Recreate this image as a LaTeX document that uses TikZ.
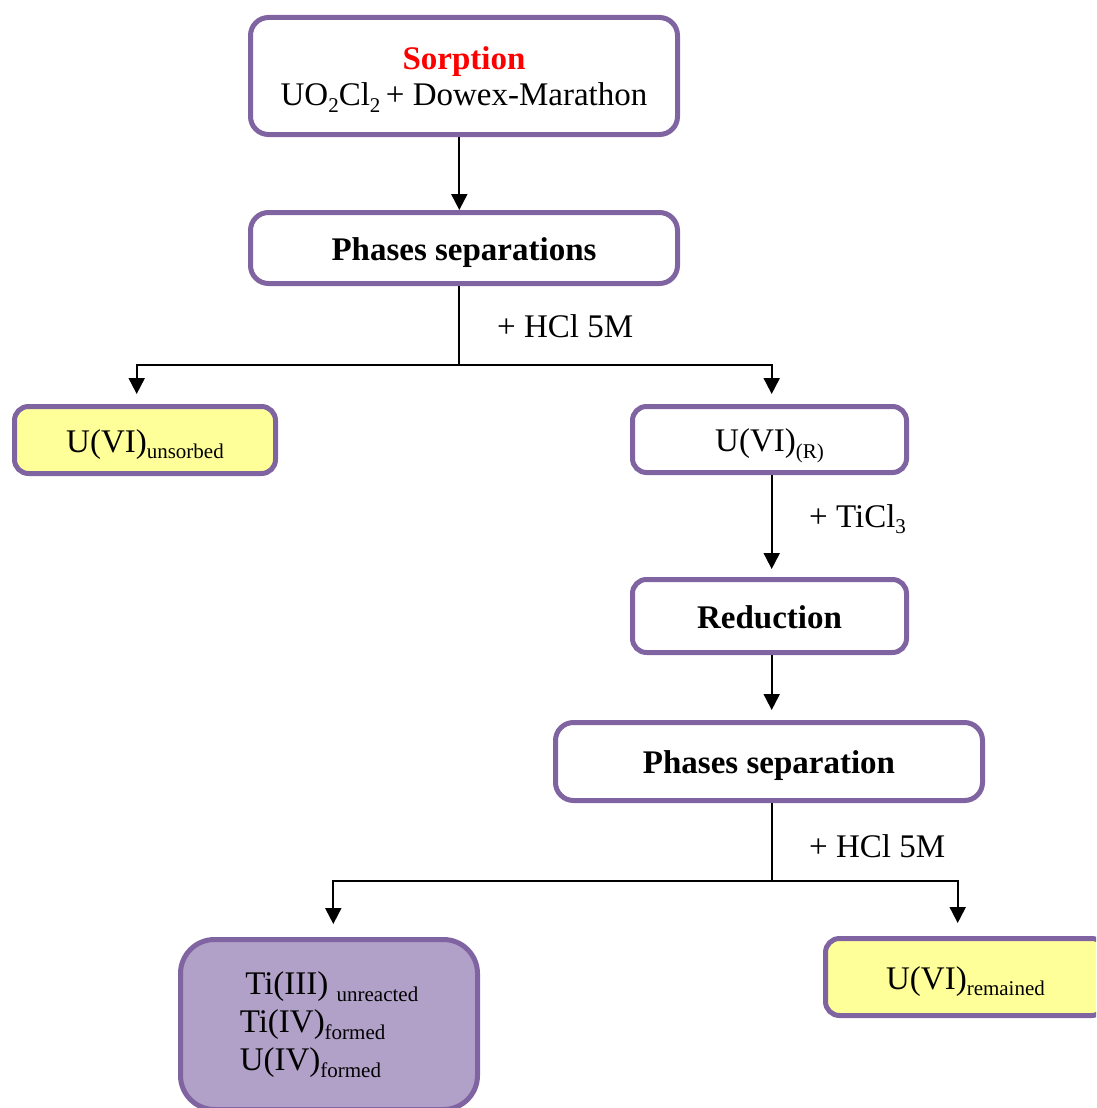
\documentclass[tikz,border=0pt]{standalone}
\usepackage{fontspec}
\setmainfont{Liberation Serif}
\usetikzlibrary{arrows.meta}
\definecolor{boxpurple}{RGB}{128,100,162}
\definecolor{boxyellow}{RGB}{255,255,153}
\definecolor{fillpurple}{RGB}{177,160,199}
\newcommand\subtx[1]{\raisebox{-0.2em}{\fontsize{21}{21}\selectfont #1}}
\begin{document}
\begin{tikzpicture}[x=1pt,y=-1pt,
  every node/.style={font=\fontsize{33}{36}\selectfont, inner sep=0pt},
  procbox/.style={draw=boxpurple, line width=5pt, rounded corners=18pt, fill=white},
  oneline/.style={text height=31pt, text depth=7pt},
  yellowbox/.style={procbox, fill=boxyellow, rounded corners=14pt},
  purplebox/.style={procbox, fill=fillpurple, rounded corners=34pt},
  ln/.style={line width=2pt},
  arr/.style={line width=2pt, -{Triangle[length=16pt,width=16pt]}},
  lbl/.style={anchor=west}]
\useasboundingbox (0,0) rectangle (1096,1108);
\clip (0,0) rectangle (1096,1108);

% boxes
\node[procbox, minimum width=427pt, minimum height=117pt, align=center, text depth=0pt] (b1) at (464,76)
  {{\bfseries\color{red}Sorption}\\UO\subtx{2}Cl\subtx{2}\,+ Dowex-Marathon};
\node[procbox, oneline, minimum width=427pt, minimum height=71pt, font=\fontsize{33}{36}\selectfont\bfseries] (b2) at (464,248) {Phases separations};
\node[yellowbox, oneline, minimum width=261pt, minimum height=67pt] (u1) at (145,440) {U(VI)\subtx{unsorbed}};
\node[procbox, oneline, minimum width=274pt, minimum height=66pt, rounded corners=14pt] (r1) at (769.5,439.5) {U(VI)\subtx{(R)}};
\node[procbox, oneline, minimum width=274pt, minimum height=73pt, rounded corners=14pt, font=\fontsize{33}{36}\selectfont\bfseries] (red) at (769.5,616) {Reduction};
\node[procbox, oneline, minimum width=427pt, minimum height=78pt, font=\fontsize{33}{36}\selectfont\bfseries] (ps) at (769,761.5) {Phases separation};
\node[purplebox, minimum width=297pt, minimum height=170pt, align=left, font=\fontsize{33}{38}\selectfont] (tb) at (329,1024.5)
  {\,Ti(III) \subtx{unreacted}\\Ti(IV)\subtx{formed}\\U(IV)\subtx{formed}};
\node[yellowbox, oneline, minimum width=280pt, minimum height=77pt] (rem) at (965.5,977) {U(VI)\subtx{remained}};

% columns and junctions
\coordinate (cA) at (459.3,0);
\coordinate (cB) at (136.7,0);
\coordinate (cC) at (771.7,0);
\coordinate (cD) at (333.3,0);
\coordinate (cE) at (957.7,0);
\coordinate (j1) at (459.3,365);
\coordinate (j2) at (771.7,881);

% connectors
\draw[arr] (b1.south -| cA) -- (b2.north -| cA);
\draw[ln] (b2.south -| cA) -- (j1);
\draw[arr, shorten >=10pt] (j1) -| (u1.north -| cB);
\draw[arr, shorten >=10pt] (j1) -| (r1.north -| cC);
\draw[arr, shorten >=8pt] (r1.south -| cC) -- (red.north -| cC);
\draw[arr, shorten >=10pt] (red.south -| cC) -- (ps.north -| cC);
\draw[ln] (ps.south -| cC) -- (j2);
\draw[arr, shorten >=13pt] (j2) -| (tb.north -| cD);
\draw[arr, shorten >=13pt] (j2) -| (rem.north -| cE);

% labels
\node[lbl] (l1) at (497,326) {+ HCl 5M};
\node[lbl] (l2) at (809,519) {+ TiCl\subtx{3}};
\node[lbl] (l3) at (809,846) {+ HCl 5M};
\end{tikzpicture}
\end{document}
